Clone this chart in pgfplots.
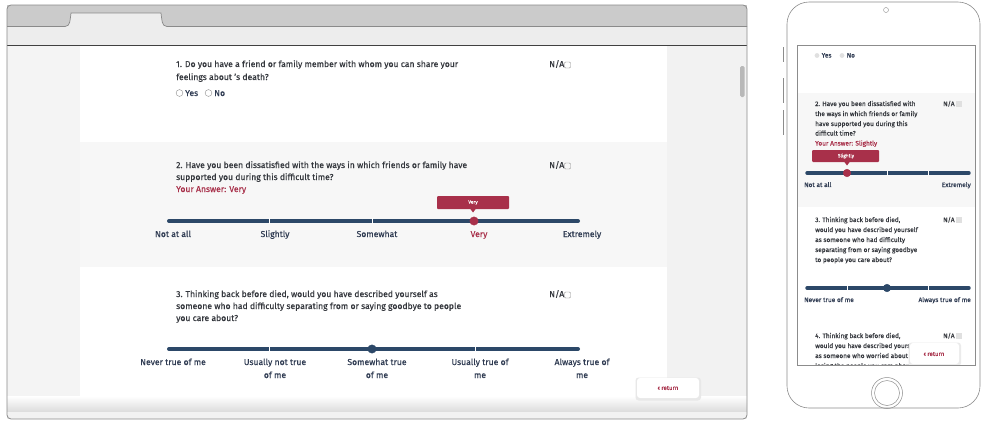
\documentclass[border=0pt]{standalone}
\usepackage{fontspec}
\setmainfont{Fira Sans}[FakeBold=0.35]
\usepackage{pgfplots}
\pgfplotsset{compat=1.18}
\definecolor{navy}{HTML}{2C4868}
\definecolor{crim}{HTML}{A8304A}
\definecolor{txt}{HTML}{34373D}
\definecolor{lab}{HTML}{2F3B52}
\definecolor{bar}{HTML}{CBCBCB}
\definecolor{tool}{HTML}{EDEDED}
\definecolor{side}{HTML}{F4F4F4}
\definecolor{band}{HTML}{F7F7F7}
\definecolor{edge}{HTML}{8A8A8A}
\newcommand\fa{\fontsize{8.6}{9}\selectfont}
\newcommand\fb{\fontsize{6.5}{7}\selectfont}
\newcommand\fc{\fontsize{4.8}{5}\selectfont}
\newcommand\fd{\fontsize{6}{6}\selectfont}
\begin{document}
\begin{tikzpicture}[every node/.style={inner sep=0pt, text=txt}]
\begin{axis}[width=985pt, height=421pt, scale only axis, xmin=0, xmax=985, ymin=0, ymax=421,
  y dir=reverse, hide axis, clip=false]
\path[fill=white] (0,0) rectangle (985,421);
% ---------------- browser window ----------------
\fill[bar] (7,5) rectangle (747,27);
\fill[tool] (7,27) rectangle (747,45);
\fill[tool] (65,27) to[out=0,in=-100] (71,13) -- (161,13) to[out=-80,in=180] (167,27) -- cycle;
\draw[edge, line width=0.7pt] (7,26.5) -- (65,26.5) to[out=0,in=-100] (71,13) -- (161,13) to[out=-80,in=180] (167,26.5) -- (747,26.5);
\fill[side] (7,46) rectangle (80,419);
\fill[black!5] (667,46) rectangle (747,419);
\fill[band] (80,142) rectangle (667,267);
\shade[top color=white, bottom color=black!14] (7,396) rectangle (747,412);
\fill[black!5] (7,412) rectangle (747,419);
\draw[black!75, line width=1.1pt] (7,45.5) -- (747,45.5);
\fill[black!28, rounded corners=1.5pt] (740,66) rectangle (744.5,97);
\draw[edge, line width=0.8pt, rounded corners=4pt] (7,5) rectangle (747,419);
% Q1
\node[anchor=base west, font=\fa] at (176,67) {1. Do you have a friend or family member with whom you can share your};
\node[anchor=base west, font=\fa] at (176,80) {feelings about 's death?};
\draw[black!45, line width=0.4pt] (179.5,93) circle (3.4pt);
\node[anchor=base west, font=\fa, text=lab] at (185,96) {Yes};
\draw[black!45, line width=0.4pt] (208.5,93) circle (3.4pt);
\node[anchor=base west, font=\fa, text=lab] at (214,96) {No};
\node[anchor=base west, font=\fa] at (549,67) {N/A};
\draw[black!45, line width=0.4pt, rounded corners=1pt] (564.5,62) rectangle (570.5,68);
% Q2
\node[anchor=base west, font=\fa] at (176,168) {2. Have you been dissatisfied with the ways in which friends or family have};
\node[anchor=base west, font=\fa] at (176,180) {supported you during this difficult time?};
\node[anchor=base west, font=\fa, text=crim] at (176,192) {Your Answer: Very};
\node[anchor=base west, font=\fa] at (549,168) {N/A};
\draw[black!45, line width=0.4pt, rounded corners=1pt] (564.5,163) rectangle (570.5,169);
\fill[crim, rounded corners=1pt] (437,196) rectangle (509,209);
\fill[crim] (470,208.5) -- (476,208.5) -- (473,212.5) -- cycle;
\node[font=\fc, text=white] at (473,202.5) {Very};
\addplot[navy, line width=4pt, line cap=round] coordinates {(169,221) (578,221)};
\addplot[white, line width=0.8pt] coordinates {(269,218) (269,224)};
\addplot[white, line width=0.8pt] coordinates {(372,218) (372,224)};
\addplot[only marks, mark=*, mark size=4.2pt, color=crim] coordinates {(474,221)};
\node[anchor=base, font=\fa, text=lab] at (173,237) {Not at all};
\node[anchor=base, font=\fa, text=lab] at (275,237) {Slightly};
\node[anchor=base, font=\fa, text=lab] at (377,237) {Somewhat};
\node[anchor=base, font=\fa, text=crim] at (479,237) {Very};
\node[anchor=base, font=\fa, text=lab] at (582,237) {Extremely};
% Q3
\node[anchor=base west, font=\fa] at (176,297) {3. Thinking back before died, would you have described yourself as};
\node[anchor=base west, font=\fa] at (176,309) {someone who had difficulty separating from or saying goodbye to people};
\node[anchor=base west, font=\fa] at (176,321) {you care about?};
\node[anchor=base west, font=\fa] at (549,297) {N/A};
\draw[black!45, line width=0.4pt, rounded corners=1pt] (564.5,292) rectangle (570.5,298);
\addplot[navy, line width=4pt, line cap=round] coordinates {(169,349) (578,349)};
\addplot[white, line width=0.8pt] coordinates {(269,346) (269,352)};
\addplot[white, line width=0.8pt] coordinates {(475,346) (475,352)};
\addplot[only marks, mark=*, mark size=4.2pt, color=navy] coordinates {(372,349)};
\node[anchor=base, font=\fa, text=lab] at (173,365) {Never true of me};
\node[anchor=base, font=\fa, text=lab] at (275,365) {Usually not true};
\node[anchor=base, font=\fa, text=lab] at (275,378) {of me};
\node[anchor=base, font=\fa, text=lab] at (377,365) {Somewhat true};
\node[anchor=base, font=\fa, text=lab] at (377,378) {of me};
\node[anchor=base, font=\fa, text=lab] at (480,365) {Usually true of};
\node[anchor=base, font=\fa, text=lab] at (480,378) {me};
\node[anchor=base, font=\fa, text=lab] at (582,365) {Always true of};
\node[anchor=base, font=\fa, text=lab] at (582,378) {me};
% return button
\fill[black!9, rounded corners=3pt] (635.5,377.5) rectangle (701,400.5);
\fill[white, rounded corners=3pt] (637,378) rectangle (699,398);
\node[font=\fd, text=crim] at (668,388) {\textbf{‹} return};
% ---------------- phone ----------------
\fill[band] (797,93) rectangle (975,207);
\draw[black!45, line width=0.6pt, rounded corners=22pt] (787,2) rectangle (980,408);
\draw[black!45, line width=0.4pt] (886,10) circle (2.5pt);
\draw[black!45, line width=0.8pt] (783.5,47) -- (783.5,62);
\draw[black!45, line width=0.8pt] (783.5,78) -- (783.5,103);
\draw[black!45, line width=0.8pt] (783.5,110) -- (783.5,135);
\draw[black!45, line width=0.6pt] (797,45) rectangle (975,365);
\fill[black!12] (817,55.5) circle (2.4pt);
\node[anchor=base west, font=\fb, text=lab] at (821.5,57.5) {Yes};
\fill[black!12] (842,55.5) circle (2.4pt);
\node[anchor=base west, font=\fb, text=lab] at (846.5,57.5) {No};
% phone Q2
\node[anchor=base west, font=\fb] at (815,106) {2. Have you been dissatisfied with};
\node[anchor=base west, font=\fb] at (815,116) {the ways in which friends or family};
\node[anchor=base west, font=\fb] at (815,126) {have supported you during this};
\node[anchor=base west, font=\fb] at (815,135.5) {difficult time?};
\node[anchor=base west, font=\fb, text=crim] at (815,145.5) {Your Answer: Slightly};
\node[anchor=base west, font=\fb] at (943,106) {N/A};
\fill[black!12] (956,101) rectangle (961.5,106.5);
\fill[crim, rounded corners=1pt] (812,150) rectangle (879,162);
\fill[crim] (844,161.5) -- (850,161.5) -- (847,165.5) -- cycle;
\node[font=\fc, text=white] at (846,156) {Slightly};
\addplot[navy, line width=3.4pt, line cap=round] coordinates {(807,173) (969,173)};
\addplot[white, line width=0.7pt] coordinates {(887,170.5) (887,175.5)};
\addplot[white, line width=0.7pt] coordinates {(928,170.5) (928,175.5)};
\addplot[only marks, mark=*, mark size=3.8pt, color=crim] coordinates {(847,173)};
\node[anchor=base west, font=\fb, text=lab] at (804,187) {Not at all};
\node[anchor=base east, font=\fb, text=lab] at (971,187) {Extremely};
% phone Q3
\node[anchor=base west, font=\fb] at (815,222) {3. Thinking back before died,};
\node[anchor=base west, font=\fb] at (815,232) {would you have described yourself};
\node[anchor=base west, font=\fb] at (815,242) {as someone who had difficulty};
\node[anchor=base west, font=\fb] at (815,252) {separating from or saying goodbye};
\node[anchor=base west, font=\fb] at (815,262) {to people you care about?};
\node[anchor=base west, font=\fb] at (943,222) {N/A};
\fill[black!12] (956,217) rectangle (961.5,222.5);
\addplot[navy, line width=3.4pt, line cap=round] coordinates {(807,288) (969,288)};
\addplot[white, line width=0.7pt] coordinates {(847,285.5) (847,290.5)};
\addplot[white, line width=0.7pt] coordinates {(928,285.5) (928,290.5)};
\addplot[only marks, mark=*, mark size=3.8pt, color=navy] coordinates {(887,288)};
\node[anchor=base west, font=\fb, text=lab] at (804,302) {Never true of me};
\node[anchor=base east, font=\fb, text=lab] at (971,302) {Always true of me};
% phone Q4 (clipped)
\begin{scope}
\clip (797.5,45.5) rectangle (974.5,364.5);
\node[anchor=base west, font=\fb] at (815,338) {4. Thinking back before died,};
\node[anchor=base west, font=\fb] at (815,348) {would you have described yourself};
\node[anchor=base west, font=\fb] at (815,358) {as someone who worried about};
\node[anchor=base west, font=\fb] at (815,368) {losing the people you care about?};
\node[anchor=base west, font=\fb] at (943,338) {N/A};
\fill[black!12] (956,333) rectangle (961.5,338.5);
\fill[black!8, rounded corners=3pt] (908.5,342.5) rectangle (961,366);
\fill[white, rounded corners=3pt] (910,343) rectangle (959,364);
\node[font=\fd, text=crim] at (934,354) {\textbf{‹} return};
\end{scope}
\draw[black!45, line width=0.6pt] (797,45) rectangle (975,365);
\draw[black!45, line width=0.5pt] (887,393) circle (15.5pt);
\draw[black!45, line width=0.5pt] (887,393) circle (12.5pt);
\end{axis}
\end{tikzpicture}
\end{document}
